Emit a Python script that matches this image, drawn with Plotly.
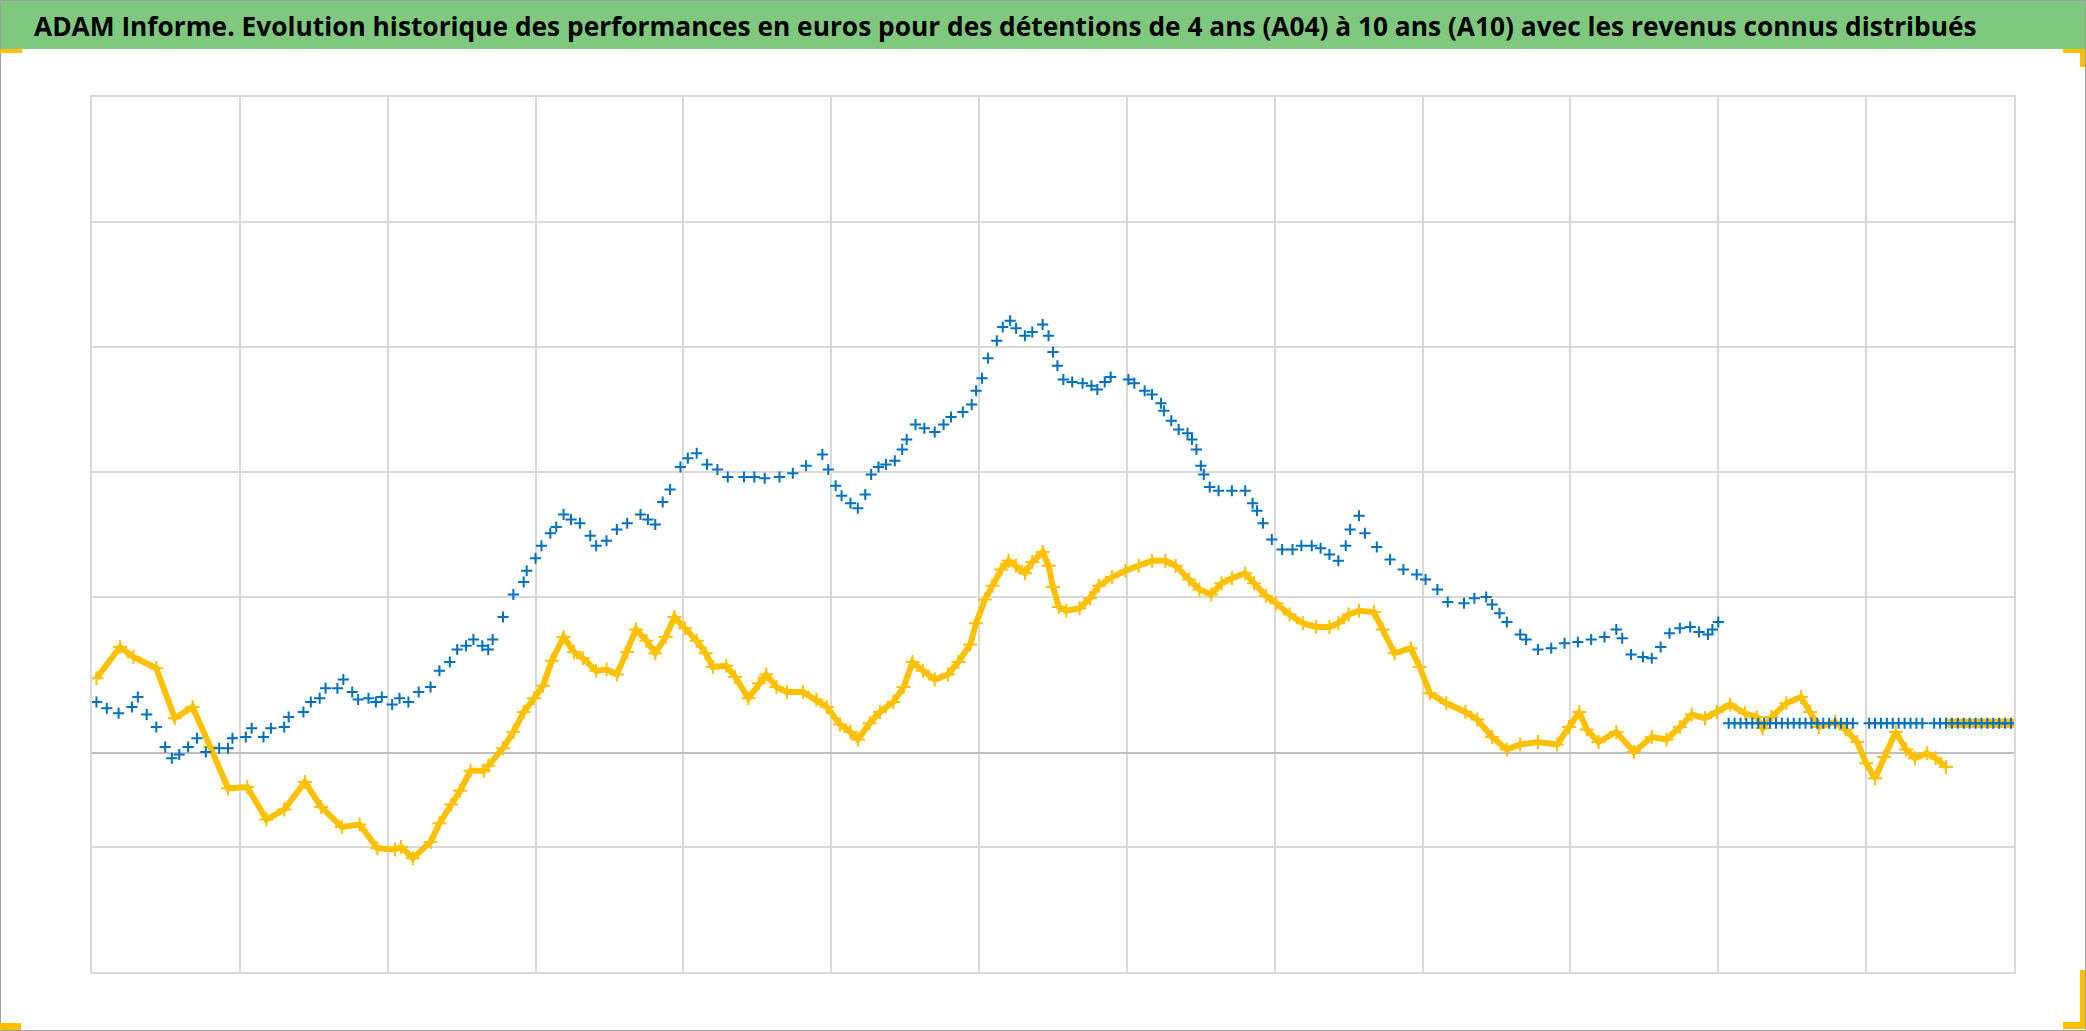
import plotly.graph_objects as go

# ---- data (x: time units, 10 per vertical gridline; y: value) ----
yellow_x = [0.3, 1.9, 2.8, 4.35, 5.6, 6.8, 8.0, 9.2, 10.5, 11.8, 13.0, 14.4, 15.5, 16.9, 18.1,
            19.3, 20.5, 20.9, 21.7, 22.9, 23.5, 24.3, 24.9, 25.6, 26.5, 26.8, 27.8, 28.5, 29.2,
            29.9, 30.5, 31.1, 31.9, 32.6, 33.2, 34.1, 34.8, 35.5, 36.2, 36.8, 37.5, 38.1, 38.8,
            39.4, 40.1, 40.9, 41.5, 42.0, 42.9, 43.5, 44.4, 45.1, 45.6, 46.3, 47.0, 48.1, 49.0,
            49.7, 50.6, 51.3, 51.8, 52.6, 53.3, 54.2, 54.9, 55.5, 56.2, 57.0, 57.9, 58.6, 59.4,
            59.8, 60.4, 60.9, 61.5, 62.0, 62.5, 63.1, 63.6, 64.3, 64.7, 65.0, 65.4, 65.9, 66.8,
            67.5, 68.1, 69.0, 69.9, 70.8, 71.7, 72.6, 73.3, 74.2, 74.9, 75.7, 76.4, 77.1, 78.0,
            78.6, 79.4, 80.1, 81.0, 81.9, 82.8, 83.7, 84.3, 85.0, 85.7, 86.7, 87.3, 88.1, 89.2,
            89.8, 90.5, 91.6, 92.9, 93.7, 94.7, 95.7, 96.6, 97.8, 99.1, 99.9, 100.6, 101.1, 101.9,
            103.1, 104.3, 105.5, 106.5, 107.4, 108.2, 109.1, 109.9, 110.8, 111.8, 112.6, 113.0,
            113.6, 114.6, 115.6, 116.2, 116.8, 117.9, 118.6, 119.4, 120.0, 120.6, 121.2, 122.0,
            122.7, 123.3, 124.1, 124.7, 125.4]
yellow_y = [6.0, 8.5, 7.7, 6.8, 2.8, 3.7, 0.5, -2.8, -2.7, -5.3, -4.5, -2.3, -4.3, -5.9, -5.7,
            -7.6, -7.7, -7.5, -8.4, -7.1, -5.6, -4.1, -3.0, -1.4, -1.4, -1.0, 0.4, 1.7, 3.3,
            4.4, 5.4, 7.4, 9.3, 8.1, 7.6, 6.6, 6.7, 6.3, 8.1, 9.9, 9.0, 8.0, 9.3,
            10.9, 10.0, 9.0, 8.0, 6.9, 7.0, 6.1, 4.4, 5.6, 6.3, 5.3, 4.9, 4.9, 4.3,
            3.7, 2.3, 1.7, 1.1, 2.4, 3.3, 4.1, 5.3, 7.3, 6.6, 5.9, 6.3, 7.3, 8.7,
            10.4, 12.3, 13.4, 14.7, 15.4, 15.0, 14.4, 15.3, 16.1, 15.0, 13.3, 11.7, 11.4, 11.6,
            12.4, 13.4, 14.1, 14.6, 15.0, 15.4, 15.4, 15.0, 13.9, 13.1, 12.7, 13.6, 14.0, 14.4,
            13.6, 12.6, 12.0, 11.1, 10.4, 10.1, 10.1, 10.4, 11.1, 11.4, 11.3, 9.9, 8.0, 8.4,
            6.9, 4.8, 4.0, 3.3, 2.7, 1.3, 0.3, 0.7, 0.9, 0.7, 2.1, 3.3, 1.9, 0.9,
            1.7, 0.1, 1.3, 1.1, 2.1, 3.1, 2.8, 3.3, 3.9, 3.2, 2.9, 2.0,
            2.9, 4.0, 4.5, 3.3, 2.1, 2.5, 1.9, 0.9, -0.8, -2.0, -0.3, 1.7,
            0.3, -0.4, 0.0, -0.4, -1.1]

yellow_flat_x = [125.8, 126.2, 126.6, 127.0, 127.4, 127.8, 128.2, 128.6, 129.0, 129.4, 129.8]
flat_value = 2.4

blue_x = [0.3, 1.0, 1.8, 2.7, 3.1, 3.7, 4.35, 4.95, 5.4, 5.9, 6.5, 7.1, 7.7, 8.6, 9.2, 9.5,
          10.4, 10.8, 11.6, 12.1, 13.0, 13.3, 14.3, 14.8, 15.4, 15.8, 16.6, 17.0, 17.6, 18.0,
          18.7, 19.2, 19.6, 20.3, 20.8, 21.4, 22.1, 22.9, 23.5, 24.2, 24.7, 25.3, 25.8, 26.4,
          26.8, 27.1, 27.8, 28.5, 29.2, 29.4, 30.0, 30.4, 31.0, 31.4, 31.9, 32.4, 33.0, 33.7,
          34.1, 34.8, 35.5, 36.2, 37.1, 37.6, 38.1, 38.6, 39.1, 39.8, 40.3, 40.9, 41.6, 42.3,
          43.0, 44.1, 44.8, 45.5, 46.5, 47.4, 48.3, 49.4, 49.8, 50.3, 50.7, 51.3, 51.8, 52.3,
          52.7, 53.2, 53.7, 54.3, 54.8, 55.1, 55.7, 56.3, 57.0, 57.6, 58.1, 58.9, 59.5, 59.8,
          60.2, 60.6, 61.2, 61.6, 62.1, 62.5, 63.1, 63.6, 64.3, 64.7, 65.0, 65.3, 65.7, 66.3,
          67.0, 67.6, 68.0, 68.5, 68.9, 70.1, 70.5, 71.2, 71.7, 72.3, 72.5, 73.0, 73.5, 74.1,
          74.4, 74.7, 75.0, 75.2, 75.6, 76.2, 77.1, 78.0, 78.5, 78.8, 79.2, 79.8, 80.5, 81.2,
          81.8, 82.5, 83.1, 83.7, 84.3, 84.8, 85.1, 85.7, 86.1, 86.9, 87.8, 88.7, 89.6, 90.2,
          91.0, 91.7, 92.8, 93.5, 94.3, 94.7, 95.2, 95.7, 96.6, 97.0, 97.8, 98.7, 99.6, 100.5,
          101.4, 102.3, 103.1, 103.5, 104.1, 104.9, 105.5, 106.1, 106.7, 107.4, 108.1, 108.7,
          109.3, 109.6, 110.0]
blue_y = [4.1, 3.6, 3.2, 3.7, 4.5, 3.1, 2.1, 0.5, -0.4, -0.1, 0.5, 1.2, 0.1, 0.4, 0.4, 1.2,
          1.3, 2.0, 1.3, 2.0, 2.1, 2.9, 3.3, 4.1, 4.4, 5.2, 5.2, 5.9, 4.9, 4.3,
          4.4, 4.1, 4.5, 3.9, 4.4, 4.1, 4.9, 5.3, 6.6, 7.3, 8.3, 8.6, 9.1, 8.6,
          8.3, 9.1, 10.9, 12.7, 13.7, 14.6, 15.6, 16.6, 17.6, 18.1, 19.1, 18.7, 18.4, 17.4,
          16.6, 17.0, 17.9, 18.4, 19.1, 18.7, 18.3, 20.1, 21.1, 22.9, 23.6, 24.0, 23.1, 22.7,
          22.1, 22.1, 22.1, 22.0, 22.1, 22.4, 23.0, 23.9, 22.7, 21.4, 20.6, 20.0, 19.6, 20.7,
          22.3, 22.9, 23.1, 23.4, 24.3, 25.1, 26.3, 26.0, 25.7, 26.3, 26.9, 27.3, 27.9, 29.0,
          30.0, 31.6, 33.0, 34.1, 34.6, 34.0, 33.4, 33.7, 34.3, 33.4, 32.1, 31.0, 29.9, 29.7,
          29.6, 29.4, 29.1, 29.7, 30.1, 29.9, 29.6, 29.0, 28.7, 28.0, 27.4, 26.6, 25.9, 25.6,
          25.1, 24.3, 23.0, 22.3, 21.3, 21.0, 21.0, 21.0, 20.0, 19.4, 18.4, 17.1, 16.3, 16.3,
          16.6, 16.6, 16.4, 15.9, 15.4, 16.6, 17.9, 19.0, 17.6, 16.5, 15.5, 14.7, 14.3, 13.9,
          13.1, 12.1, 12.0, 12.4, 12.5, 11.9, 11.2, 10.5, 9.5, 9.1, 8.3, 8.4, 8.8, 8.9,
          9.1, 9.3, 9.9, 9.2, 7.9, 7.7, 7.6, 8.5, 9.6, 10.0, 10.1, 9.7,
          9.5, 9.9, 10.5]

blue_flat_x = [110.7, 111.1, 111.5, 111.9, 112.3, 112.7, 113.1, 113.5, 113.9, 114.3, 114.7,
               115.1, 115.5, 115.9, 116.3, 116.7, 117.1, 117.5, 117.9, 118.3, 118.7, 119.1,
               120.2, 120.6, 121.0, 121.4, 121.8, 122.2, 122.6, 123.0, 123.4, 123.8,
               124.6, 125.0, 125.4, 125.8, 126.2, 126.6, 127.0, 127.4, 127.8, 128.2, 128.6,
               129.0, 129.4, 129.8]

title_text = ("ADAM Informe. Evolution historique des performances en euros pour des détentions "
              "de 4 ans (A04) à 10 ans (A10) avec les revenus connus distribués")

X_RANGE = [0, 130]
Y_RANGE = [-17.5, 52.5]
Y_GRID = [-17.5, -7.5, 12.5, 22.5, 32.5, 42.5, 52.5]

YELLOW = "#FFC000"
BLUE = "#0070C0"
GRID = "#D9D9D9"

W, H = 2086, 1031
L, R, T, B = 92, 2014, 97, 972  # plot area in pixels
PW, PH = R - L, B - T


def px(xp):
    return (xp - L) / PW


def py(yp):
    return (B - yp) / PH


fig = go.Figure()

fig.add_trace(go.Scatter(x=yellow_x, y=yellow_y, mode="lines+markers",
                         line=dict(color=YELLOW, width=6),
                         marker=dict(symbol="cross-thin", size=10,
                                     line=dict(color=YELLOW, width=2)),
                         showlegend=False, hoverinfo="skip"))
fig.add_trace(go.Scatter(x=yellow_flat_x, y=[flat_value] * len(yellow_flat_x), mode="markers",
                         marker=dict(symbol="square", size=9, color=YELLOW),
                         showlegend=False, hoverinfo="skip"))
fig.add_trace(go.Scatter(x=blue_x, y=blue_y, mode="markers",
                         marker=dict(symbol="cross-thin", size=8,
                                     line=dict(color=BLUE, width=2)),
                         showlegend=False, hoverinfo="skip"))
fig.add_trace(go.Scatter(x=blue_flat_x, y=[flat_value] * len(blue_flat_x), mode="markers",
                         marker=dict(symbol="cross-thin", size=8,
                                     line=dict(color=BLUE, width=2)),
                         showlegend=False, hoverinfo="skip"))

shapes = [
    # green title band
    dict(type="rect", xref="paper", yref="paper", x0=px(0), x1=px(W), y0=py(49), y1=py(0),
         fillcolor="#7FC97F", line=dict(width=0), layer="below"),
    # outer chart border
    dict(type="rect", xref="paper", yref="paper", x0=px(0.5), x1=px(W - 0.5),
         y0=py(H - 0.5), y1=py(0.5), line=dict(color="#A0A0A0", width=1)),
    # selection handles
    dict(type="rect", xref="paper", yref="paper", x0=px(0), x1=px(22), y0=py(53), y1=py(49),
         fillcolor=YELLOW, line=dict(width=0)),
    dict(type="rect", xref="paper", yref="paper", x0=px(2063), x1=px(2085), y0=py(53), y1=py(49),
         fillcolor=YELLOW, line=dict(width=0)),
    dict(type="rect", xref="paper", yref="paper", x0=px(2080), x1=px(2085), y0=py(67), y1=py(49),
         fillcolor=YELLOW, line=dict(width=0)),
    dict(type="rect", xref="paper", yref="paper", x0=px(0), x1=px(21), y0=py(1030), y1=py(1023),
         fillcolor=YELLOW, line=dict(width=0)),
    dict(type="rect", xref="paper", yref="paper", x0=px(2063), x1=px(2085), y0=py(1029), y1=py(1022),
         fillcolor=YELLOW, line=dict(width=0)),
    dict(type="rect", xref="paper", yref="paper", x0=px(2080), x1=px(2085), y0=py(1029), y1=py(970),
         fillcolor=YELLOW, line=dict(width=0)),
]

fig.update_layout(
    width=W, height=H,
    margin=dict(l=L, r=W - R, t=T, b=H - B),
    paper_bgcolor="white", plot_bgcolor="white",
    shapes=shapes,
    annotations=[dict(text="<b>" + title_text + "</b>", xref="paper", yref="paper",
                      x=px(33), y=py(26), xanchor="left", yanchor="middle", showarrow=False,
                      borderpad=0,
                      font=dict(family="Open Sans", size=26.3, color="black"))],
    xaxis=dict(range=X_RANGE, dtick=10, tick0=0, showgrid=True, gridcolor=GRID, gridwidth=1.5,
               showticklabels=False, ticks="", zeroline=False,
               showline=True, mirror=True, linecolor=GRID, linewidth=1.5),
    yaxis=dict(range=Y_RANGE, tickmode="array", tickvals=Y_GRID, showgrid=True,
               gridcolor=GRID, gridwidth=1.5, showticklabels=False, ticks="",
               zeroline=True, zerolinecolor="#BFBFBF", zerolinewidth=2,
               showline=True, mirror=True, linecolor=GRID, linewidth=1.5),
)

fig.write_html("out.html", config={"displayModeBar": False},
               post_script="document.body.style.margin='0px';document.body.style.overflow='hidden';")
